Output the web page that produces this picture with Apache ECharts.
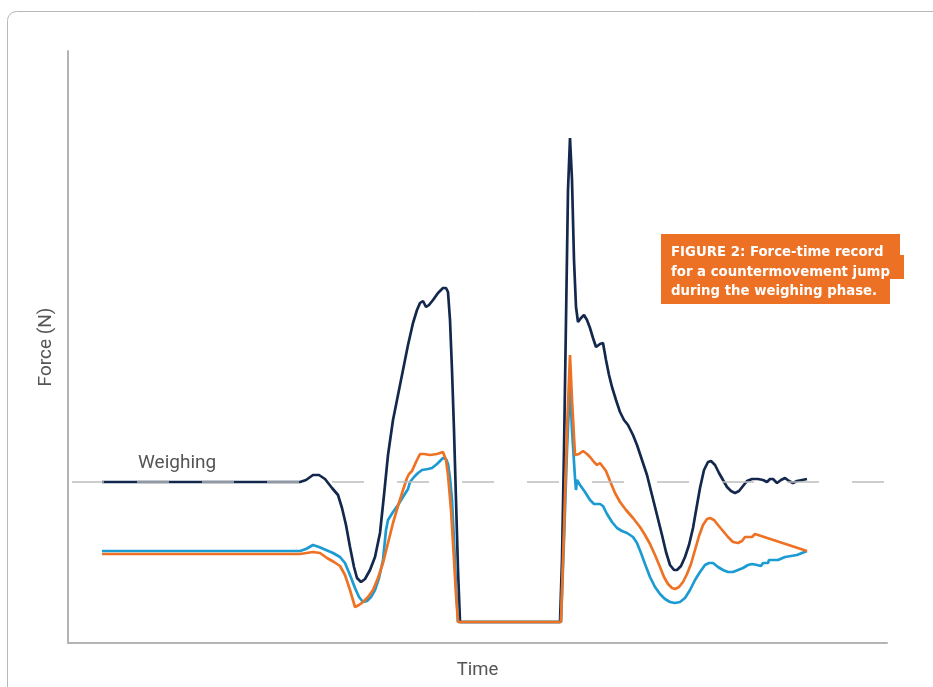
<!DOCTYPE html>
<html>
<head>
<meta charset="utf-8">
<script src="https://cdn.jsdelivr.net/npm/echarts@6/dist/echarts.min.js"></script>
<style>html,body{margin:0;padding:0;background:#fff}#c{width:933px;height:687px}</style>
</head>
<body>
<div id="c"></div>
<script>
// Time in ms, force in N (body weight = 700 N)
const bodyWeight = 700;
const xMax = 3276;
const yMin = -105, yMax = 2855;

const navyT = [136,928,952,980,1004,1028,1056,1080,1096,1112,1128,1144,1156,1172,1188,1208,1228,1248,1264,1280,1300,1320,1340,1360,1380,1396,1408,1420,1432,1444,1460,1480,1500,1512,1520,1528,1536,1544,1552,1560,1568,1968,1976,1984,1992,2000,2008,2016,2024,2032,2040,2052,2064,2076,2088,2100,2112,2128,2140,2152,2164,2176,2192,2208,2224,2240,2260,2276,2296,2316,2336,2356,2376,2392,2408,2424,2436,2452,2468,2484,2500,2516,2528,2544,2560,2572,2588,2604,2620,2636,2652,2668,2684,2700,2716,2736,2760,2780,2796,2808,2820,2836,2852,2868,2884,2900,2916,2936,2956];
const navyF = [700,700,710,735,735,715,670,635,570,485,375,275,220,200,215,260,325,445,635,835,1010,1135,1260,1385,1495,1560,1595,1605,1575,1585,1610,1645,1670,1670,1650,1510,1260,960,610,260,0,0,310,860,1510,2160,2420,2210,1810,1575,1500,1520,1535,1510,1470,1420,1375,1390,1395,1310,1235,1175,1110,1050,1010,985,935,885,810,735,635,535,435,350,285,260,260,280,325,385,470,585,670,760,800,805,785,745,710,675,655,645,655,680,705,715,715,710,700,715,715,695,710,720,705,695,705,710,715];

const orangeT = [136,928,980,1008,1036,1064,1088,1108,1128,1148,1164,1180,1200,1220,1240,1260,1280,1300,1320,1340,1356,1364,1376,1392,1408,1424,1448,1476,1500,1512,1520,1532,1544,1552,1560,1972,1984,1996,2008,2016,2028,2044,2060,2076,2088,2104,2116,2128,2136,2152,2168,2188,2208,2232,2260,2288,2308,2328,2348,2368,2384,2400,2416,2428,2444,2460,2476,2492,2508,2524,2540,2556,2568,2584,2600,2620,2640,2660,2680,2696,2708,2724,2736,2748,2956];
const orangeF = [340,340,350,345,320,300,280,235,160,75,85,100,125,160,220,295,395,495,580,660,720,740,755,800,840,840,835,840,850,810,735,560,310,135,0,0,460,960,1335,1110,835,840,855,840,825,800,785,795,805,755,705,645,600,560,520,475,435,390,335,275,225,190,170,165,175,200,240,290,360,430,485,515,520,510,485,455,425,400,395,405,425,425,425,440,355];

const blueT = [136,928,952,980,1004,1032,1060,1088,1108,1128,1148,1164,1180,1196,1212,1228,1244,1260,1272,1280,1300,1320,1340,1360,1368,1384,1400,1416,1440,1456,1476,1500,1512,1520,1528,1536,1544,1552,1560,1972,1984,1996,2008,2016,2028,2032,2036,2048,2068,2088,2104,2128,2140,2156,2176,2196,2216,2236,2260,2276,2292,2308,2328,2348,2368,2388,2408,2428,2448,2468,2488,2508,2528,2548,2564,2580,2600,2620,2640,2660,2680,2700,2720,2736,2756,2772,2780,2800,2804,2840,2868,2916,2956];
const blueF = [355,355,365,385,375,360,345,325,295,235,170,125,100,105,125,160,220,310,460,510,550,585,625,665,700,725,745,760,765,770,790,820,815,790,720,610,410,185,0,0,410,860,1190,960,720,660,710,685,650,610,590,590,580,540,500,470,455,445,425,395,345,290,225,175,140,115,100,95,100,120,160,210,250,285,295,295,275,260,250,250,260,270,285,290,285,280,295,295,310,310,325,335,355];

const zip = (t, f) => t.map((v, i) => [v, f[i]]);

const chart = echarts.init(document.getElementById('c'), null, {renderer: 'canvas'});
const lineW = 2.7;
const boxFont = 'bold 13.3px "DejaVu Sans"';
chart.setOption({
  animation: false,
  backgroundColor: '#ffffff',
  grid: {left: 68, right: 46, top: 51, bottom: 44, containLabel: false},
  xAxis: {
    type: 'value', min: 0, max: xMax,
    name: 'Time', nameLocation: 'middle', nameGap: 18,
    nameTextStyle: {fontFamily: 'Roboto', fontSize: 18.5, color: '#555'},
    axisLine: {show: true, onZero: false, lineStyle: {color: '#b4b4b4', width: 2}},
    axisTick: {show: false}, axisLabel: {show: false}, splitLine: {show: false}
  },
  yAxis: {
    type: 'value', min: yMin, max: yMax,
    name: 'Force (N)', nameLocation: 'middle', nameGap: 12,
    nameTextStyle: {fontFamily: 'Roboto', fontSize: 19, color: '#555'},
    axisLine: {show: true, onZero: false, lineStyle: {color: '#b4b4b4', width: 2}},
    axisTick: {show: false}, axisLabel: {show: false}, splitLine: {show: false}
  },
  series: [
    {
      type: 'line', data: [], z: 1, silent: true,
      markLine: {
        silent: true, symbol: 'none', animation: false,
        label: {show: false},
        lineStyle: {color: '#bdbdbd', width: 1.6, type: [32, 33], dashOffset: 61},
        data: [{yAxis: bodyWeight}]
      }
    },
    {type: 'line', name: 'navy', data: zip(navyT, navyF), showSymbol: false, symbol: 'none', smooth: false,
     lineStyle: {color: '#13284c', width: lineW}, z: 2},
    {type: 'line', name: 'blue', data: zip(blueT, blueF), showSymbol: false, symbol: 'none',
     lineStyle: {color: '#1b9bd1', width: lineW}, z: 3},
    {type: 'line', name: 'orange', data: zip(orangeT, orangeF), showSymbol: false, symbol: 'none',
     lineStyle: {color: '#ee7223', width: lineW}, z: 4}
  ],
  graphic: [
    {type: 'rect', silent: true, z: 0,
     shape: {x: 7.5, y: 11.5, width: 1000, height: 1000, r: 9},
     style: {fill: 'none', stroke: '#b8b8b8', lineWidth: 1}},
    {type: 'text', left: 138, top: 454, silent: true,
     style: {text: 'Weighing', font: '19px Roboto', fill: '#555'}},
    {type: 'rect', silent: true, z: 10, shape: {x: 661, y: 234, width: 239, height: 22}, style: {fill: '#ec7124'}},
    {type: 'rect', silent: true, z: 10, shape: {x: 661, y: 255, width: 243, height: 24}, style: {fill: '#ec7124'}},
    {type: 'rect', silent: true, z: 10, shape: {x: 661, y: 278, width: 229, height: 26}, style: {fill: '#ec7124'}},
    {type: 'text', left: 671, top: 246, silent: true, z: 11,
     style: {text: 'FIGURE 2: Force-time record', font: boxFont, fill: '#fff'}},
    {type: 'text', left: 671, top: 266, silent: true, z: 11,
     style: {text: 'for a countermovement jump', font: boxFont, fill: '#fff'}},
    {type: 'text', left: 671, top: 285, silent: true, z: 11,
     style: {text: 'during the weighing phase.', font: boxFont, fill: '#fff'}}
  ]
});
</script>
</body>
</html>
